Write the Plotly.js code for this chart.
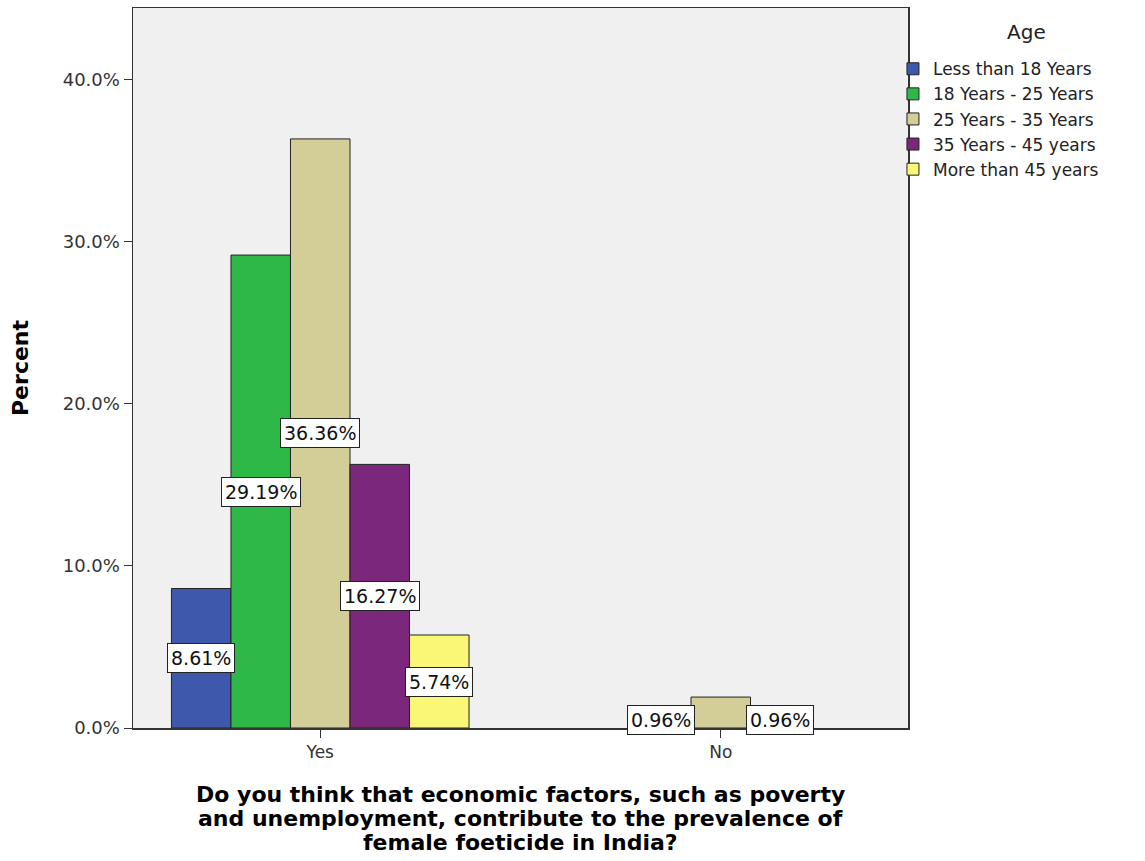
<!DOCTYPE html>
<html><head><meta charset="utf-8">
<script src="https://cdn.plot.ly/plotly-3.0.1.min.js"></script>
<style>body{margin:0;background:#fff}</style>
</head><body>
<div id="chart" style="width:1145px;height:861px"></div>
<script>
const categories = ["Yes", "No"];
const seriesNames = ["Less than 18 Years", "18 Years - 25 Years", "25 Years - 35 Years", "35 Years - 45 years", "More than 45 years"];
const lessThan18 = [8.61, 0];
const years18to25 = [29.19, 0.96];
const years25to35 = [36.36, 1.91];
const years35to45 = [16.27, 0.96];
const moreThan45 = [5.74, 0];
const labelsLessThan18 = ["8.61%", ""];
const labels18to25 = ["29.19%", "0.96%"];
const labels25to35 = ["36.36%", ""];
const labels35to45 = ["16.27%", "0.96%"];
const labelsMoreThan45 = ["5.74%", ""];
const yTickVals = [0, 10, 20, 30, 40];
const yTickText = ["0.0%", "10.0%", "20.0%", "30.0%", "40.0%"];
const legendTitle = "Age";
const xTitleLines = ["Do you think that economic factors, such as poverty", "and unemployment, contribute to the prevalence of", "female foeticide in India?"];

const seriesValues = [lessThan18, years18to25, years25to35, years35to45, moreThan45];
const seriesLabels = [labelsLessThan18, labels18to25, labels25to35, labels35to45, labelsMoreThan45];
const colors = ["#3e58ac", "#2eb848", "#d3ce97", "#7b287c", "#fbf776"];
const FONT = "DejaVu Sans, Verdana, sans-serif";
const bargap = 0.257;
const n = seriesValues.length;
const bw = (1 - bargap) / n;

const traces = seriesValues.map((vals, i) => ({
  type: "bar", name: seriesNames[i], x: categories, y: vals,
  marker: {color: colors[i], line: {color: "#222", width: vals.map(v => v > 0 ? 1 : 0)}},
  hoverinfo: "skip"
}));

const annotations = [];
seriesValues.forEach((vals, i) => {
  vals.forEach((v, c) => {
    const t = seriesLabels[i][c];
    if (!t) return;
    annotations.push({
      xref: "x", yref: "y", x: c + (i - (n - 1) / 2) * bw, y: v / 2,
      text: t, showarrow: false,
      font: {family: FONT, size: 19, color: "#111"},
      bgcolor: "#ffffff", bordercolor: "#222", borderwidth: 1, borderpad: 3
    });
  });
});
xTitleLines.forEach((line, k) => {
  annotations.push({
    xref: "paper", yref: "paper", x: 0.5, y: 0, xanchor: "center", yanchor: "middle",
    yshift: -66 - 24 * k, text: "<b>" + line + "</b>", showarrow: false,
    font: {family: FONT, size: 22, color: "#000"}
  });
});
annotations.push({
  xref: "paper", yref: "paper", x: 1.1535, y: 0.9667, xanchor: "center", yanchor: "middle",
  text: legendTitle, showarrow: false, font: {family: FONT, size: 20, color: "#222"}
});

const layout = {
  width: 1145, height: 861,
  margin: {l: 133, r: 237, t: 8, b: 133},
  paper_bgcolor: "#ffffff", plot_bgcolor: "#f0f0f0",
  barmode: "group", bargap: bargap, bargroupgap: 0,
  font: {family: FONT, color: "#222"},
  xaxis: {
    type: "category", range: [-0.4675, 1.4675],
    showline: true, mirror: true, linecolor: "#333", linewidth: 1.5,
    ticks: "outside", ticklen: 8, tickcolor: "#333",
    tickfont: {family: FONT, size: 17, color: "#333"}, showgrid: false, zeroline: false
  },
  yaxis: {
    range: [0, 44.44], tickvals: yTickVals, ticktext: yTickText,
    showline: true, mirror: true, linecolor: "#333", linewidth: 1.5,
    ticks: "outside", ticklen: 8, tickcolor: "#333",
    tickfont: {family: FONT, size: 18, color: "#333"}, showgrid: false, zeroline: false,
    title: {text: "<b>Percent</b>", font: {family: FONT, size: 22, color: "#000"}, standoff: 28}
  },
  legend: {
    x: 0.9806, xanchor: "left", y: 0.940, yanchor: "top",
    bgcolor: "rgba(0,0,0,0)", font: {family: FONT, size: 17, color: "#222"},
    tracegroupgap: 0, itemwidth: 30
  },
  annotations: annotations,
  showlegend: true
};
Plotly.newPlot("chart", traces, layout, {displayModeBar: false, staticPlot: true});
</script>
</body></html>
